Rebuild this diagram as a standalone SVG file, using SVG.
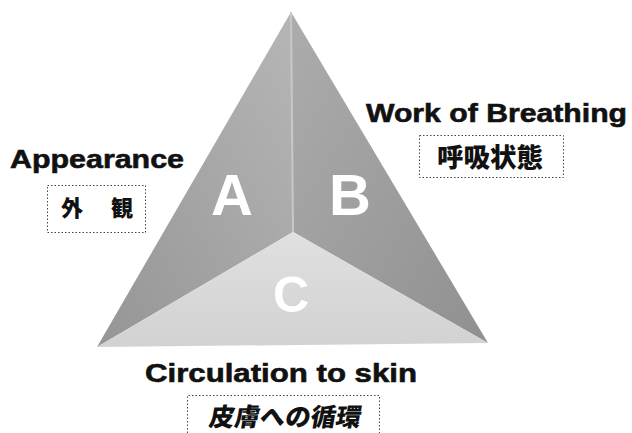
<svg xmlns="http://www.w3.org/2000/svg" width="632" height="433" viewBox="0 0 632 433">
<style>
.en{font-family:"Liberation Sans",Arial,sans-serif;font-weight:bold;font-size:26px;fill:#111;stroke:#111;stroke-width:0.6}
.jp{font-family:"Noto Sans CJK JP","Liberation Sans",sans-serif;font-weight:900;fill:#111}
.box{fill:none;stroke:#444;stroke-width:1;stroke-dasharray:1.5 2}
.big{font-family:"Liberation Sans",Arial,sans-serif;font-weight:bold;fill:#fff;text-anchor:middle}
</style>
<defs>
<linearGradient id="gA" x1="0" y1="1" x2="1" y2="0">
<stop offset="0" stop-color="#959595"/><stop offset="1" stop-color="#b6b6b6"/>
</linearGradient>
<linearGradient id="gB" x1="1" y1="1" x2="0" y2="0">
<stop offset="0" stop-color="#909090"/><stop offset="1" stop-color="#acacac"/>
</linearGradient>
<linearGradient id="gC" x1="0" y1="0" x2="0" y2="1">
<stop offset="0" stop-color="#e0e0e0"/><stop offset="1" stop-color="#d2d2d2"/>
</linearGradient>
</defs>
<rect width="632" height="433" fill="#fff"/>
<g id="pyramid">
<polygon id="faceA" points="291,12 293,232 97,347" fill="url(#gA)"/>
<polygon id="faceB" points="291,12 488,343 293,232" fill="url(#gB)"/>
<polygon id="faceC" points="97,347 293,232 488,343" fill="url(#gC)"/>
<line x1="291" y1="12" x2="293" y2="232" stroke="#c8c8c8" stroke-width="2"/>
<text class="big" x="232" y="215" font-size="58">A</text>
<text class="big" x="350" y="215" font-size="58">B</text>
<text class="big" x="291" y="312" font-size="50">C</text>
</g>
<g id="appearance">
<text class="en" x="10" y="168" textLength="174" lengthAdjust="spacingAndGlyphs">Appearance</text>
<rect class="box" x="47.5" y="185.5" width="98" height="47"/>
<text class="jp" x="61" y="216" font-size="22">外</text>
<text class="jp" x="111" y="216" font-size="22">観</text>
</g>
<g id="breathing">
<text class="en" x="366" y="122" textLength="261" lengthAdjust="spacingAndGlyphs">Work of Breathing</text>
<rect class="box" x="419.5" y="135.5" width="144" height="42"/>
<text class="jp" x="437" y="167" font-size="26" textLength="106" lengthAdjust="spacingAndGlyphs">呼吸状態</text>
</g>
<g id="circulation">
<text class="en" x="145" y="382" textLength="272" lengthAdjust="spacingAndGlyphs">Circulation to skin</text>
<path class="box" d="M187.5,440 V395.5 H379.5 V440"/>
<text class="jp" x="208" y="426" font-size="25" textLength="152" lengthAdjust="spacingAndGlyphs" transform="skewX(-10) translate(75,0)">皮膚への循環</text>
</g>
</svg>
